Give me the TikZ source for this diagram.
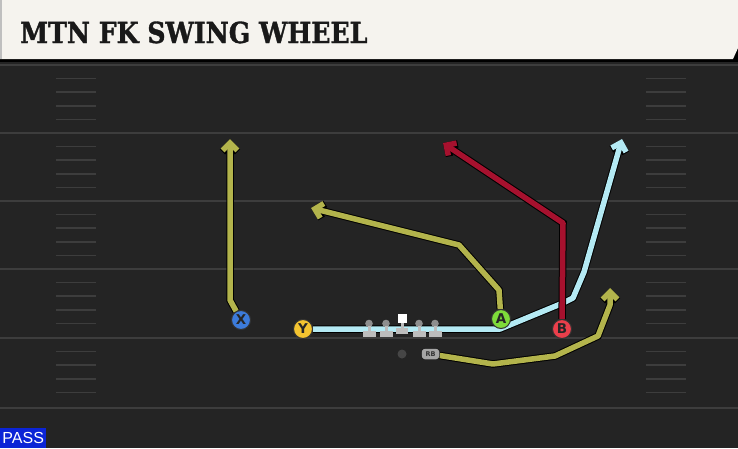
\documentclass[tikz,border=0pt]{standalone}
\usepackage{fontspec}
\setsansfont{DejaVu Sans}
\newfontfamily\titlefont{DejaVu Serif}[FakeStretch=0.87,FakeBold=1.2]
\newfontfamily\tagfont{Liberation Sans}
\usetikzlibrary{arrows.meta}

\definecolor{turf}{HTML}{242424}
\definecolor{yardline}{HTML}{3D3D3D}
\definecolor{banner}{HTML}{F5F3EE}
\definecolor{routeolive}{HTML}{B3B44C}
\definecolor{routeblue}{HTML}{B4EAF4}
\definecolor{routered}{HTML}{A6112E}
\definecolor{playerx}{HTML}{3C7BDA}
\definecolor{playery}{HTML}{F4C430}
\definecolor{playera}{HTML}{7EDB3A}
\definecolor{playerb}{HTML}{EA3F4B}
\definecolor{lineman}{HTML}{BDBDBD}
\definecolor{linehead}{HTML}{8E8E8E}
\definecolor{passblue}{HTML}{0B24D6}

\pgfdeclarelayer{turf}
\pgfdeclarelayer{routes}
\pgfsetlayers{turf,routes,main}

\tikzset{
  route/.style={line width=5.5pt, line join=round, -{Straight Barb[length=7.5pt,width=15pt]},
    preaction={draw=black, line width=7.5pt}},
  player/.style={circle, draw=black!80, line width=1pt, minimum size=19pt, inner sep=0pt,
    font=\sffamily\bfseries\fontsize{13.5}{13.5}\selectfont, text=black!85},
  hash/.style={yardline, line width=1.6pt},
}

\begin{document}
\begin{tikzpicture}[x=1pt, y=-1pt]
  \useasboundingbox (0,0) rectangle (738,448);

  % field
  \begin{pgfonlayer}{turf}
    \fill[turf] (0,0) rectangle (738,448);
    \foreach \y in {65,133,201,269,338,408}
      \draw[yardline, line width=2.2pt] (0,\y) -- (738,\y);
    \foreach \y in {65,133,201,269,338}
      \foreach \k in {1,...,4} {
        \draw[hash] (56,\y+13.6*\k) -- (96,\y+13.6*\k);
        \draw[hash] (646,\y+13.6*\k) -- (686,\y+13.6*\k);
      }
  \end{pgfonlayer}

  % title bar
  \fill[black] (0,0) rectangle (738,62);
  \fill[banner] (0,0) -- (738,0) -- (738,48) -- (733,59) -- (0,59) -- cycle;
  \fill[gray!50] (0,0) rectangle (1.5,59);
  \node[anchor=base west, font=\titlefont\bfseries\fontsize{29}{29}\selectfont, text=black!90, inner sep=0pt]
    (title) at (20,43) {MTN FK SWING WHEEL};

  % line
  \foreach \x in {369,386,419,435} {
    \fill[linehead] (\x,323.5) circle (3.8);
    \fill[lineman] (\x-1.5,326) rectangle (\x+1.5,332);
    \fill[lineman] (\x-6.5,331) rectangle (\x+6.5,337);
  }
  \fill[white] (397.5,314) rectangle (406.5,322.5);
  \fill[lineman] (400.5,322.5) rectangle (403.5,329);
  \fill[lineman] (396,328) rectangle (408,333.5);

  % players
  \node[player, fill=playerx] (X) at (241,320) {X};
  \node[player, fill=playery] (Y) at (303,329) {Y};
  \node[player, fill=playera] (A) at (501,319) {A};
  \node[player, fill=playerb] (B) at (562,329) {B};
  \node[circle, fill=gray!55!black, minimum size=9pt, inner sep=0pt] (QB) at (402,354) {};
  \node[draw=black, fill=gray!70, rounded corners=3pt, minimum width=18pt, minimum height=11pt,
    inner sep=0pt, font=\sffamily\bfseries\fontsize{6.5}{6.5}\selectfont, text=black!80] (RB) at (430.5,354) {RB};

  \coordinate (xend) at (230,139);
  \coordinate (aend) at (311,208);
  \coordinate (yend) at (622,139);
  \coordinate (bend) at (443,143);
  \coordinate (rbend) at (610,288);

  % routes
  \begin{pgfonlayer}{routes}
    \draw[route, routeolive] (X) -- (230,300) -- (xend);
    \draw[route, routeolive] (A) -- (499,290) -- (459,245) -- (aend);
    \draw[route, routeblue] (Y) -- (500,329) -- (563,303) -- (573,298) -- (584,272) -- (yend);
    \draw[route, routered] (B) -- (563,223) -- (bend);
    \draw[route, routeolive] (RB) -- (493,364) -- (555,356) -- (598,336) -- (610,305) -- (rbend);
  \end{pgfonlayer}

  % play type
  \node[fill=passblue, text=white, font=\tagfont\fontsize{16}{16}\selectfont, anchor=south west,
    minimum width=46pt, minimum height=20pt, inner sep=0pt] (pass) at (0,448) {PASS};
\end{tikzpicture}
\end{document}
